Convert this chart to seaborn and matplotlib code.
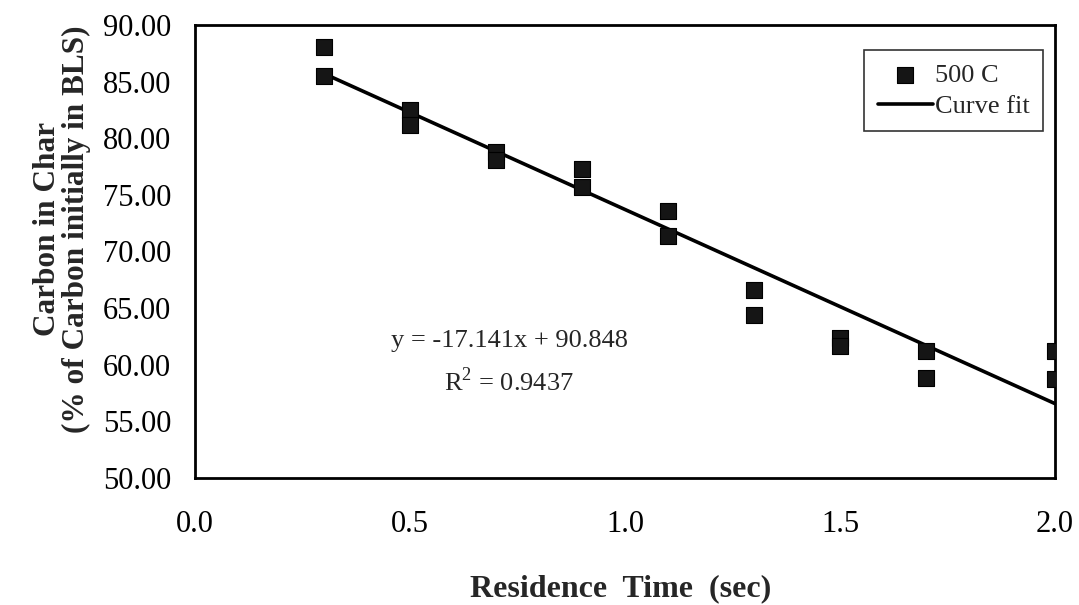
import matplotlib
matplotlib.use("Agg")
import matplotlib.pyplot as plt
import seaborn as sns
import numpy as np
import pandas as pd
from matplotlib.ticker import FormatStrFormatter

# ---- data ----
residence_time = [0.3, 0.3, 0.5, 0.5, 0.7, 0.7, 0.9, 0.9, 1.1, 1.1,
                  1.3, 1.3, 1.5, 1.5, 1.7, 1.7, 2.0, 2.0]
carbon_500C = [88.1, 85.5, 82.5, 81.2, 78.8, 78.1, 77.3, 75.7, 73.6, 71.4,
               66.6, 64.4, 62.4, 61.7, 61.2, 58.8, 61.2, 58.7]
fit_slope = -17.141
fit_intercept = 90.848
fit_x = [0.3, 2.0]
fit_y = [fit_slope * v + fit_intercept for v in fit_x]
x_ticks = [0.0, 0.5, 1.0, 1.5, 2.0]
y_ticks = [50, 55, 60, 65, 70, 75, 80, 85, 90]

df = pd.DataFrame({"x": residence_time, "y": carbon_500C})
df_fit = pd.DataFrame({"x": fit_x, "y": fit_y})

sns.set_style("white")
plt.rcParams['font.family'] = ['Liberation Serif', 'DejaVu Serif']
plt.rcParams['mathtext.fontset'] = 'custom'
plt.rcParams['mathtext.rm'] = 'Liberation Serif'

fig = plt.figure(figsize=(10.79, 6.05), dpi=100)
ax = fig.add_axes([0.1807, 0.2099, 0.9778 - 0.1807, 0.9587 - 0.2099])

sns.lineplot(data=df_fit, x="x", y="y", ax=ax, color="black", linewidth=2.6,
             label="Curve fit", zorder=2)
sns.scatterplot(data=df, x="x", y="y", ax=ax, marker="s", s=120,
                color="#151515", edgecolor="black", linewidth=0.8,
                label="500 C", zorder=3)

ax.set_xlim(0, 2.0)
ax.set_ylim(50, 90)
ax.set_xticks(x_ticks)
ax.set_yticks(y_ticks)
ax.xaxis.set_major_formatter(FormatStrFormatter("%.1f"))
ax.yaxis.set_major_formatter(FormatStrFormatter("%.2f"))
ax.tick_params(axis="both", direction="inout", length=12, width=1.2,
               labelsize=22, colors="black")
ax.tick_params(axis="y", pad=11)
ax.tick_params(axis="x", pad=17)
for sp in ax.spines.values():
    sp.set_color("black")
    sp.set_linewidth(2)

ax.set_xlabel("Residence  Time  (sec)", fontsize=23, fontweight="bold")
ax.set_ylabel("Carbon in Char\n(% of Carbon initially in BLS)", fontsize=22.5,
              fontweight="bold", linespacing=1.0)
ax.xaxis.set_label_coords(0.495, -0.213)
ax.yaxis.set_label_coords(-0.121, 0.55)

ax.text(0.3655, 0.303, "y = -17.141x + 90.848", transform=ax.transAxes,
        ha="center", va="center", fontsize=19)
ax.text(0.3655, 0.213, "R$^2$ = 0.9437", transform=ax.transAxes,
        ha="center", va="center", fontsize=19)

handles, labels = ax.get_legend_handles_labels()
order = [labels.index("500 C"), labels.index("Curve fit")]
leg = ax.legend([handles[i] for i in order], [labels[i] for i in order],
                loc="upper right", bbox_to_anchor=(0.986, 0.945), fontsize=19,
                frameon=True, fancybox=False, edgecolor="black",
                handlelength=2.1, handletextpad=0.08, borderpad=0.5,
                borderaxespad=0, labelspacing=0.3)
leg.get_frame().set_linewidth(1.2)

fig.savefig("out.png", dpi=100)
